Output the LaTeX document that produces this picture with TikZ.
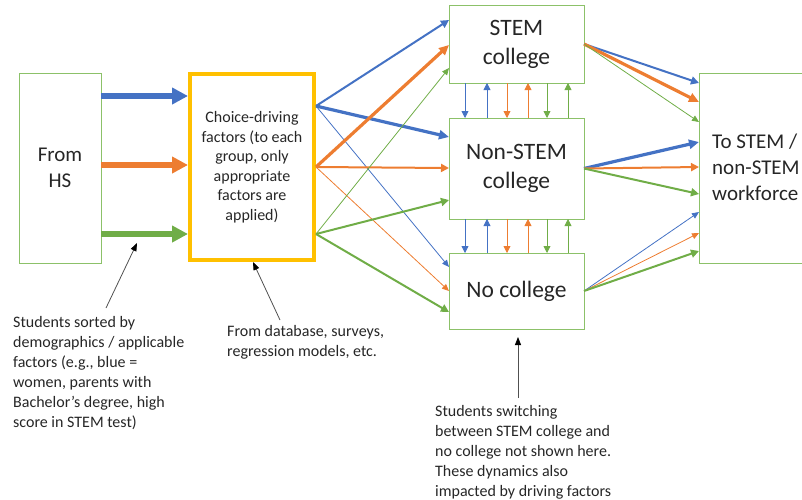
\documentclass[tikz,border=0pt]{standalone}
\usepackage{fontspec}
\setmainfont{Carlito}
\usepackage{tikz}
\usetikzlibrary{arrows.meta}
\definecolor{FlowBlue}{RGB}{68,114,196}
\definecolor{FlowOrange}{RGB}{237,125,49}
\definecolor{FlowGreen}{RGB}{112,173,71}
\definecolor{FlowYellow}{RGB}{255,192,0}
\definecolor{BoxGreen}{RGB}{140,193,105}
\definecolor{NoteGray}{RGB}{80,80,80}
\definecolor{TextDark}{RGB}{38,38,38}

\begin{document}
\begin{tikzpicture}[x=1pt,y=-1pt,
  box/.style={draw=BoxGreen,line width=1pt,rectangle,align=center,text=TextDark,outer sep=0pt},
  hsflow/.style={line width=6pt,-{Triangle[length=16pt,width=16pt]}},
  flowthk/.style={line width=3.2pt,-{Triangle[length=10pt,width=9pt]}},
  flowmed/.style={line width=2pt,-{Triangle[length=8pt,width=8pt]}},
  flowthn/.style={line width=0.8pt,-{Triangle[length=7pt,width=6pt]}},
  vflow/.style={line width=0.8pt,-{Triangle[length=7pt,width=7pt]}},
  note/.style={draw=NoteGray,line width=0.8pt,-{Triangle[length=8pt,width=6pt,color=black]}},
  notetext/.style={anchor=north west,inner sep=0pt,align=left,text=TextDark,font=\fontsize{16}{20}\selectfont}]
\useasboundingbox (0,0) rectangle (802,499);
% boxes
\node[box,minimum width=82,minimum height=190,font=\fontsize{21}{26}\selectfont] (hs) at (60,168) {From\\HS};
\node[box,draw=FlowYellow,line width=4pt,outer sep=2pt,minimum width=124,minimum height=186,
  font=\fontsize{16}{19.5}\selectfont] (choice) at (252,167)
  {Choice-driving\\factors (to each\\group, only\\appropriate\\factors are\\applied)};
\node[box,minimum width=135,minimum height=78,font=\fontsize{23.5}{29}\selectfont] (stem) at (516.5,44) {STEM\\college};
\node[box,minimum width=135,minimum height=101,font=\fontsize{23.5}{29}\selectfont] (nonstem) at (516.5,168.5) {Non-STEM\\college};
\node[box,minimum width=135,minimum height=76,font=\fontsize{23.5}{29}\selectfont] (nocol) at (516.5,291) {No college};
\node[box,minimum width=130,minimum height=190] (work) at (764,168) {};
\node[anchor=west,align=left,inner sep=0pt,text=TextDark,font=\fontsize{21}{26}\selectfont] (worktext) at (712,167)
  {To STEM /\\non-STEM\\workforce};
% from HS, one arrow per group
\foreach \c/\y in {FlowBlue/96,FlowOrange/165,FlowGreen/234}
  \draw[hsflow,\c] (hs.east |- 0,\y) -- (choice.west |- 0,\y);
\coordinate (cB) at (choice.east |- 0,106);
\coordinate (cO) at (choice.east |- 0,167);
\coordinate (cG) at (choice.east |- 0,234);
\foreach \s/\c/\t/\y/\w in {%
  cB/FlowBlue/stem/20/flowmed,cB/FlowBlue/nonstem/137/flowthk,cB/FlowBlue/nocol/267/flowthn,
  cO/FlowOrange/stem/45/flowthk,cO/FlowOrange/nonstem/168/flowmed,cO/FlowOrange/nocol/291/flowthn,
  cG/FlowGreen/stem/68/flowthn,cG/FlowGreen/nonstem/200/flowmed,cG/FlowGreen/nocol/312/flowmed}
  \draw[\w,\c] (\s) -- (\t.west |- 0,\y);
\foreach \s/\c/\y/\w in {%
  stem/FlowBlue/83/flowmed,stem/FlowOrange/102/flowthk,stem/FlowGreen/122/flowthn,
  nonstem/FlowBlue/142/flowthk,nonstem/FlowOrange/167/flowmed,nonstem/FlowGreen/194/flowmed,
  nocol/FlowBlue/212/flowthn,nocol/FlowOrange/233/flowthn,nocol/FlowGreen/251/flowmed}
  \draw[\w,\c] (\s.east) -- (work.west |- 0,\y);
% switching between colleges
\foreach \x/\u/\c in {465/487/FlowBlue,507/528/FlowOrange,547/568/FlowGreen} {
  \draw[vflow,\c] (stem.south -| \x,0) -- (nonstem.north -| \x,0);
  \draw[vflow,\c] (nonstem.north -| \u,0) -- (stem.south -| \u,0);
  \draw[vflow,\c] (nonstem.south -| \x,0) -- (nocol.north -| \x,0);
  \draw[vflow,\c] (nocol.north -| \u,0) -- (nonstem.south -| \u,0);
}
% notes
\node[notetext] (n1) at (13,316) {Students sorted by\\demographics / applicable\\factors (e.g., blue =\\women, parents with\\Bachelor’s degree, high\\score in STEM test)};
\node[notetext] (n2) at (227,325) {From database, surveys,\\regression models, etc.};
\node[notetext] (n3) at (435,405) {Students switching\\between STEM college and\\no college not shown here.\\These dynamics also\\impacted by driving factors};
\coordinate (t1) at (137,243);
\coordinate (s1) at (106,308);
\coordinate (s2) at (280,320);
\coordinate (t3) at (518,337);
\coordinate (s3) at (518,398);
\draw[note] (s1) -- (t1);
\draw[note] (s2) -- (choice.south -| 253,0);
\draw[note] (s3) -- (t3);
\end{tikzpicture}
\end{document}
